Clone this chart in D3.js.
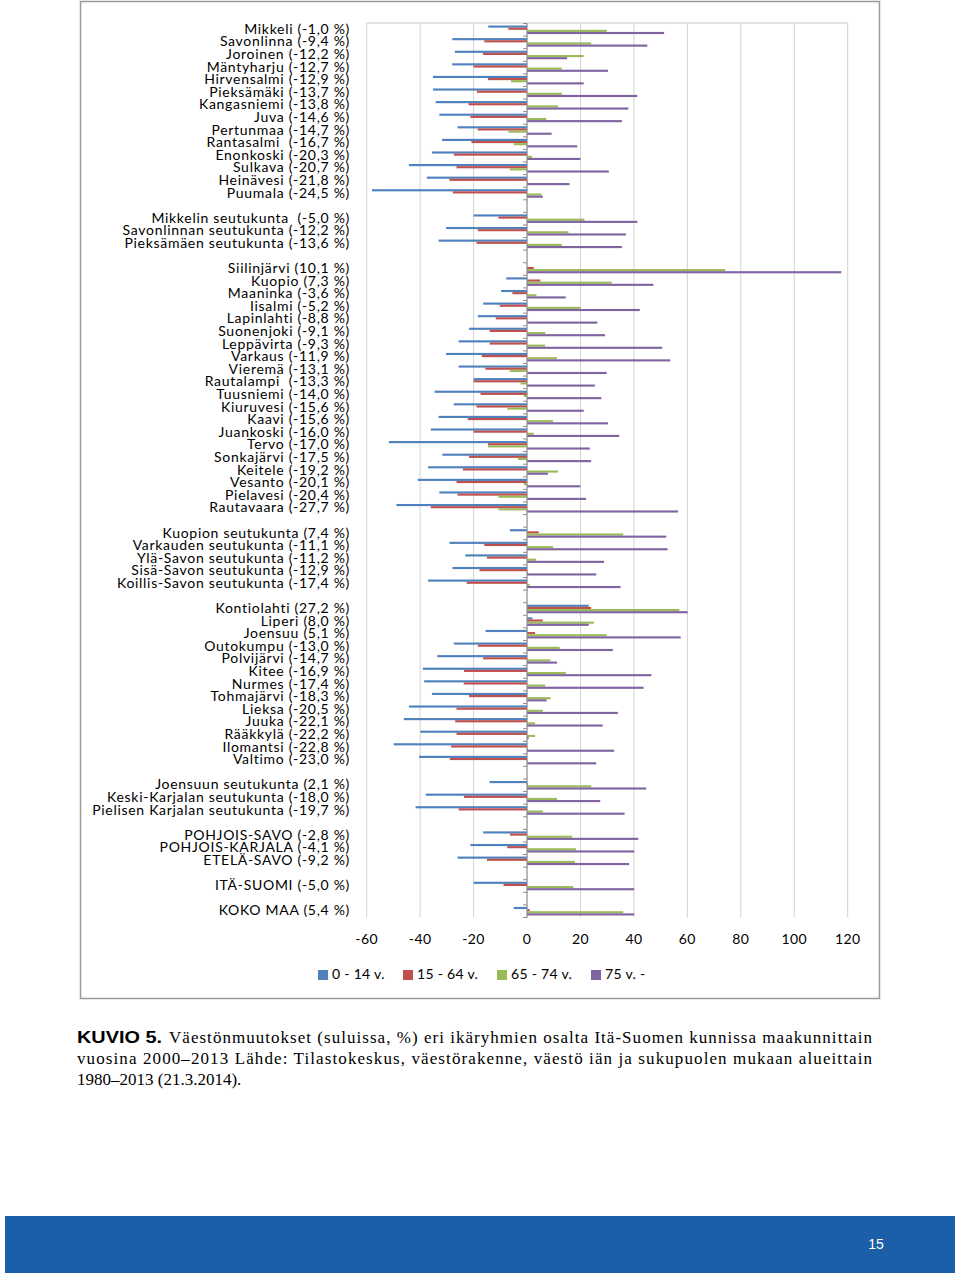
<!DOCTYPE html>
<html>
<head>
<meta charset="utf-8">
<script src="https://cdn.jsdelivr.net/npm/d3@7"></script>
<style>
  body { margin: 0; background: #fff; }
  text { white-space: pre; }
</style>
</head>
<body>
<div id="chart"></div>
<script>
"use strict";

// ---------------------------------------------------------------
// Data. "" = empty gap row between groups
// ---------------------------------------------------------------
var labels = [
  "Mikkeli (-1,0 %)", "Savonlinna (-9,4 %)", "Joroinen (-12,2 %)", "Mäntyharju (-12,7 %)",
  "Hirvensalmi (-12,9 %)", "Pieksämäki (-13,7 %)", "Kangasniemi (-13,8 %)", "Juva (-14,6 %)",
  "Pertunmaa (-14,7 %)", "Rantasalmi  (-16,7 %)", "Enonkoski (-20,3 %)", "Sulkava (-20,7 %)",
  "Heinävesi (-21,8 %)", "Puumala (-24,5 %)",
  "",
  "Mikkelin seutukunta  (-5,0 %)", "Savonlinnan seutukunta (-12,2 %)", "Pieksämäen seutukunta (-13,6 %)",
  "",
  "Siilinjärvi (10,1 %)", "Kuopio (7,3 %)", "Maaninka (-3,6 %)", "Iisalmi (-5,2 %)",
  "Lapinlahti (-8,8 %)", "Suonenjoki (-9,1 %)", "Leppävirta (-9,3 %)", "Varkaus (-11,9 %)",
  "Vieremä (-13,1 %)", "Rautalampi  (-13,3 %)", "Tuusniemi (-14,0 %)", "Kiuruvesi (-15,6 %)",
  "Kaavi (-15,6 %)", "Juankoski (-16,0 %)", "Tervo (-17,0 %)", "Sonkajärvi (-17,5 %)",
  "Keitele (-19,2 %)", "Vesanto (-20,1 %)", "Pielavesi (-20,4 %)", "Rautavaara (-27,7 %)",
  "",
  "Kuopion seutukunta (7,4 %)", "Varkauden seutukunta (-11,1 %)", "Ylä-Savon seutukunta (-11,2 %)",
  "Sisä-Savon seutukunta (-12,9 %)", "Koillis-Savon seutukunta (-17,4 %)",
  "",
  "Kontiolahti (27,2 %)", "Liperi (8,0 %)", "Joensuu (5,1 %)", "Outokumpu (-13,0 %)",
  "Polvijärvi (-14,7 %)", "Kitee (-16,9 %)", "Nurmes (-17,4 %)", "Tohmajärvi (-18,3 %)",
  "Lieksa (-20,5 %)", "Juuka (-22,1 %)", "Rääkkylä (-22,2 %)", "Ilomantsi (-22,8 %)",
  "Valtimo (-23,0 %)",
  "",
  "Joensuun seutukunta (2,1 %)", "Keski-Karjalan seutukunta (-18,0 %)", "Pielisen Karjalan seutukunta (-19,7 %)",
  "",
  "POHJOIS-SAVO (-2,8 %)", "POHJOIS-KARJALA (-4,1 %)", "ETELÄ-SAVO (-9,2 %)",
  "",
  "ITÄ-SUOMI (-5,0 %)",
  "",
  "KOKO MAA (5,4 %)"
];

var age0_14 = [
  -14.5, -28, -27, -28, -35.2, -35.2, -34.2, -32.8, -26, -31.8, -35.6, -44.2, -37.5, -58,
  null,
  -20, -30.3, -33.1,
  null,
  0, -7.8, -9.7, -16.4, -18.4, -21.7, -25.6, -30.3, -25.6, -20, -34.6, -27.4, -33.1, -36,
  -51.7, -31.7, -37, -40.9, -32.8, -48.9,
  null,
  -6.4, -29, -23.1, -27.9, -37,
  null,
  23.1, 2, -15.5, -27.4, -33.6, -39, -38.5, -35.6, -44.2, -46.1, -39.9, -49.9, -40.4,
  null,
  -14, -37.9, -41.7,
  null,
  -16.4, -21.2, -26,
  null,
  -20,
  null,
  -5
];

var age15_64 = [
  -7, -16, -16.5, -20, -14.6, -18.8, -21.9, -21.2, -18.5, -20.8, -27.4, -26.4, -29, -27.8,
  null,
  -10.7, -18.4, -18.9,
  null,
  2.5, 5, -5.5, -10.2, -11.7, -14, -14, -16.9, -15.6, -20, -17.4, -18.9, -22.2, -20,
  -14.6, -21.7, -24, -26.4, -26, -36,
  null,
  4.4, -16, -15, -17.8, -22.6,
  null,
  24, 5.9, 3, -18.4, -16.4, -23.6, -23.7, -21.7, -26.4, -26.9, -26.4, -28.4, -28.9,
  null,
  0.3, -23.6, -25.6,
  null,
  -6.4, -7.4, -15,
  null,
  -8.8,
  null,
  1
];

var age65_74 = [
  29.8, 24, 21.2, 13, -6, 13, 11.6, 7.2, -7, -5, 1.9, -6.5, 0.3, 5.4,
  null,
  21.5, 15.5, 13,
  null,
  74.2, 31.7, 3.5, 20, 0.4, 6.8, 6.8, 11.2, -6.5, -2.4, -1.2, -7.4, 9.7, 2.5,
  -14.6, -3.4, 11.6, -1.2, -10.7, -10.7,
  null,
  36, 9.7, 3.4, 0.4, 1,
  null,
  57, 25, 29.8, 12.2, 8.8, 14.5, 6.8, 8.8, 5.9, 3, 3, 0.4, 0.3,
  null,
  24, 11.2, 5.9,
  null,
  16.9, 18.3, 17.9,
  null,
  17.3,
  null,
  36
];

var age75 = [
  51.3, 45, 15, 30.3, 21.2, 41.3, 37.9, 35.5, 9.2, 18.8, 20, 30.6, 15.9, 5.9,
  null,
  41.3, 37, 35.5,
  null,
  117.6, 47.3, 14.5, 42.2, 26.3, 29.2, 50.6, 53.6, 29.8, 25.4, 27.8, 21.2, 30.3, 34.5,
  23.5, 24, 7.8, 20, 22.1, 56.5,
  null,
  52.1, 52.6, 28.8, 25.9, 35,
  null,
  60.1, 23.1, 57.5, 32.1, 11.2, 46.5, 43.6, 7.3, 34, 28.3, 0.6, 32.6, 25.9,
  null,
  44.6, 27.4, 36.5,
  null,
  41.6, 40.1, 38.2,
  null,
  40.1,
  null,
  40.1
];

var seriesNames = ["0 - 14 v.", "15 - 64 v.", "65 - 74 v.", "75 v. -"];
var seriesColors = ["#4f81bd", "#c0504d", "#9bbb59", "#8064a2"];
var xTicks = [-60, -40, -20, 0, 20, 40, 60, 80, 100, 120];

var seriesValues = [age0_14, age15_64, age65_74, age75];

// ---------------------------------------------------------------
var W = 960, H = 1278;
var plot = { left: 366.7, right: 847.7, top: 23.5, bottom: 917.5 };

var svg = d3.select("#chart").append("svg")
  .attr("width", W)
  .attr("height", H);

// outer chart frame
svg.append("rect")
  .attr("x", 80.5).attr("y", 1.5)
  .attr("width", 799).attr("height", 997)
  .attr("fill", "none")
  .attr("stroke", "#9a9a9a")
  .attr("stroke-width", 1.5);

// scales
var xScale = d3.scaleLinear().domain([-60, 120]).range([plot.left, plot.right]);
var yScale = d3.scaleBand()
  .domain(d3.range(labels.length))
  .range([plot.top, plot.bottom])
  .paddingInner(0.32)
  .paddingOuter(0.16);
var ySub = d3.scaleBand()
  .domain(d3.range(seriesNames.length))
  .range([0, yScale.bandwidth()]);

var step = yScale.step();

// vertical gridlines (very faint in the original)
svg.append("g")
  .selectAll("line")
  .data(xTicks)
  .enter().append("line")
  .attr("x1", function (d) { return xScale(d); })
  .attr("x2", function (d) { return xScale(d); })
  .attr("y1", plot.top - 0.5)
  .attr("y2", plot.bottom)
  .attr("stroke", "#d2d2d2")
  .attr("stroke-width", 1);

// top border of plot area
svg.append("line")
  .attr("x1", plot.left).attr("x2", plot.right)
  .attr("y1", plot.top - 0.5).attr("y2", plot.top - 0.5)
  .attr("stroke", "#c8c8c8");

// bars
var rows = [];
labels.forEach(function (lab, i) {
  seriesValues.forEach(function (vals, s) {
    if (vals[i] !== null) rows.push({ i: i, s: s, v: vals[i] });
  });
});

svg.append("g")
  .selectAll("rect")
  .data(rows)
  .enter().append("rect")
  .attr("x", function (d) { return xScale(Math.min(0, d.v)); })
  .attr("width", function (d) { return Math.abs(xScale(d.v) - xScale(0)); })
  .attr("y", function (d) { return yScale(d.i) + ySub(d.s); })
  .attr("height", ySub.bandwidth())
  .attr("fill", function (d) { return seriesColors[d.s]; });

// category axis at zero with small ticks
var axisG = svg.append("g");
axisG.append("line")
  .attr("x1", xScale(0)).attr("x2", xScale(0))
  .attr("y1", plot.top).attr("y2", plot.bottom)
  .attr("stroke", "#8c8c8c");
axisG.selectAll("line.tick")
  .data(d3.range(labels.length + 1))
  .enter().append("line")
  .attr("class", "tick")
  .attr("x1", xScale(0) - 4).attr("x2", xScale(0))
  .attr("y1", function (d) { return plot.top + d * step; })
  .attr("y2", function (d) { return plot.top + d * step; })
  .attr("stroke", "#8c8c8c");

// category labels
svg.append("g")
  .selectAll("text")
  .data(labels)
  .enter().append("text")
  .attr("x", 350)
  .attr("y", function (d, i) { return yScale(i) + yScale.bandwidth() / 2 + 0.5; })
  .attr("text-anchor", "end")
  .attr("dominant-baseline", "middle")
  .attr("font-family", "Lato, 'Open Sans', sans-serif")
  .attr("font-size", "14px")
  .attr("letter-spacing", "0.7px")
  .attr("fill", "#000")
  .text(function (d) { return d; });

// x tick labels
svg.append("g")
  .selectAll("text")
  .data(xTicks)
  .enter().append("text")
  .attr("x", function (d) { return xScale(d); })
  .attr("y", 940)
  .attr("text-anchor", "middle")
  .attr("dominant-baseline", "middle")
  .attr("font-family", "Lato, 'Open Sans', sans-serif")
  .attr("font-size", "14px")
  .attr("letter-spacing", "0.4px")
  .text(function (d) { return d; });

// legend
var legendX = [318, 403, 497, 591];
var legend = svg.append("g")
  .selectAll("g")
  .data(seriesNames)
  .enter().append("g")
  .attr("transform", function (d, i) { return "translate(" + legendX[i] + ",975)"; });
legend.append("rect")
  .attr("x", 0).attr("y", -5)
  .attr("width", 10).attr("height", 10)
  .attr("fill", function (d, i) { return seriesColors[i]; });
legend.append("text")
  .attr("x", 14).attr("y", 0.5)
  .attr("dominant-baseline", "middle")
  .attr("font-family", "Lato, 'Open Sans', sans-serif")
  .attr("font-size", "14px")
  .attr("letter-spacing", "0.3px")
  .text(function (d) { return d; });

// caption
var cap = svg.append("g").attr("font-family", "'Liberation Serif', serif").attr("font-size", "17px");
cap.append("text")
  .attr("x", 77).attr("y", 1043)
  .attr("font-family", "'Liberation Sans Narrow', 'Liberation Sans', sans-serif")
  .attr("font-weight", "bold")
  .attr("font-size", "17px")
  .attr("textLength", 85)
  .attr("lengthAdjust", "spacingAndGlyphs")
  .text("KUVIO 5.");
cap.append("text")
  .attr("x", 169).attr("y", 1043)
  .attr("textLength", 703)
  .attr("lengthAdjust", "spacing")
  .text("Väestönmuutokset (suluissa, %) eri ikäryhmien osalta Itä-Suomen kunnissa maakunnittain");
cap.append("text")
  .attr("x", 77).attr("y", 1064)
  .attr("textLength", 795)
  .attr("lengthAdjust", "spacing")
  .text("vuosina 2000–2013 Lähde: Tilastokeskus, väestörakenne, väestö iän ja sukupuolen mukaan alueittain");
cap.append("text")
  .attr("x", 77).attr("y", 1085)
  .text("1980–2013 (21.3.2014).");

// page footer
svg.append("rect")
  .attr("x", 5).attr("y", 1216)
  .attr("width", 950).attr("height", 57)
  .attr("fill", "#1b5fa9");
svg.append("text")
  .attr("x", 876).attr("y", 1245)
  .attr("text-anchor", "middle")
  .attr("dominant-baseline", "middle")
  .attr("font-family", "'Liberation Sans', sans-serif")
  .attr("font-size", "14px")
  .attr("fill", "#fff")
  .text("15");
</script>
</body>
</html>
